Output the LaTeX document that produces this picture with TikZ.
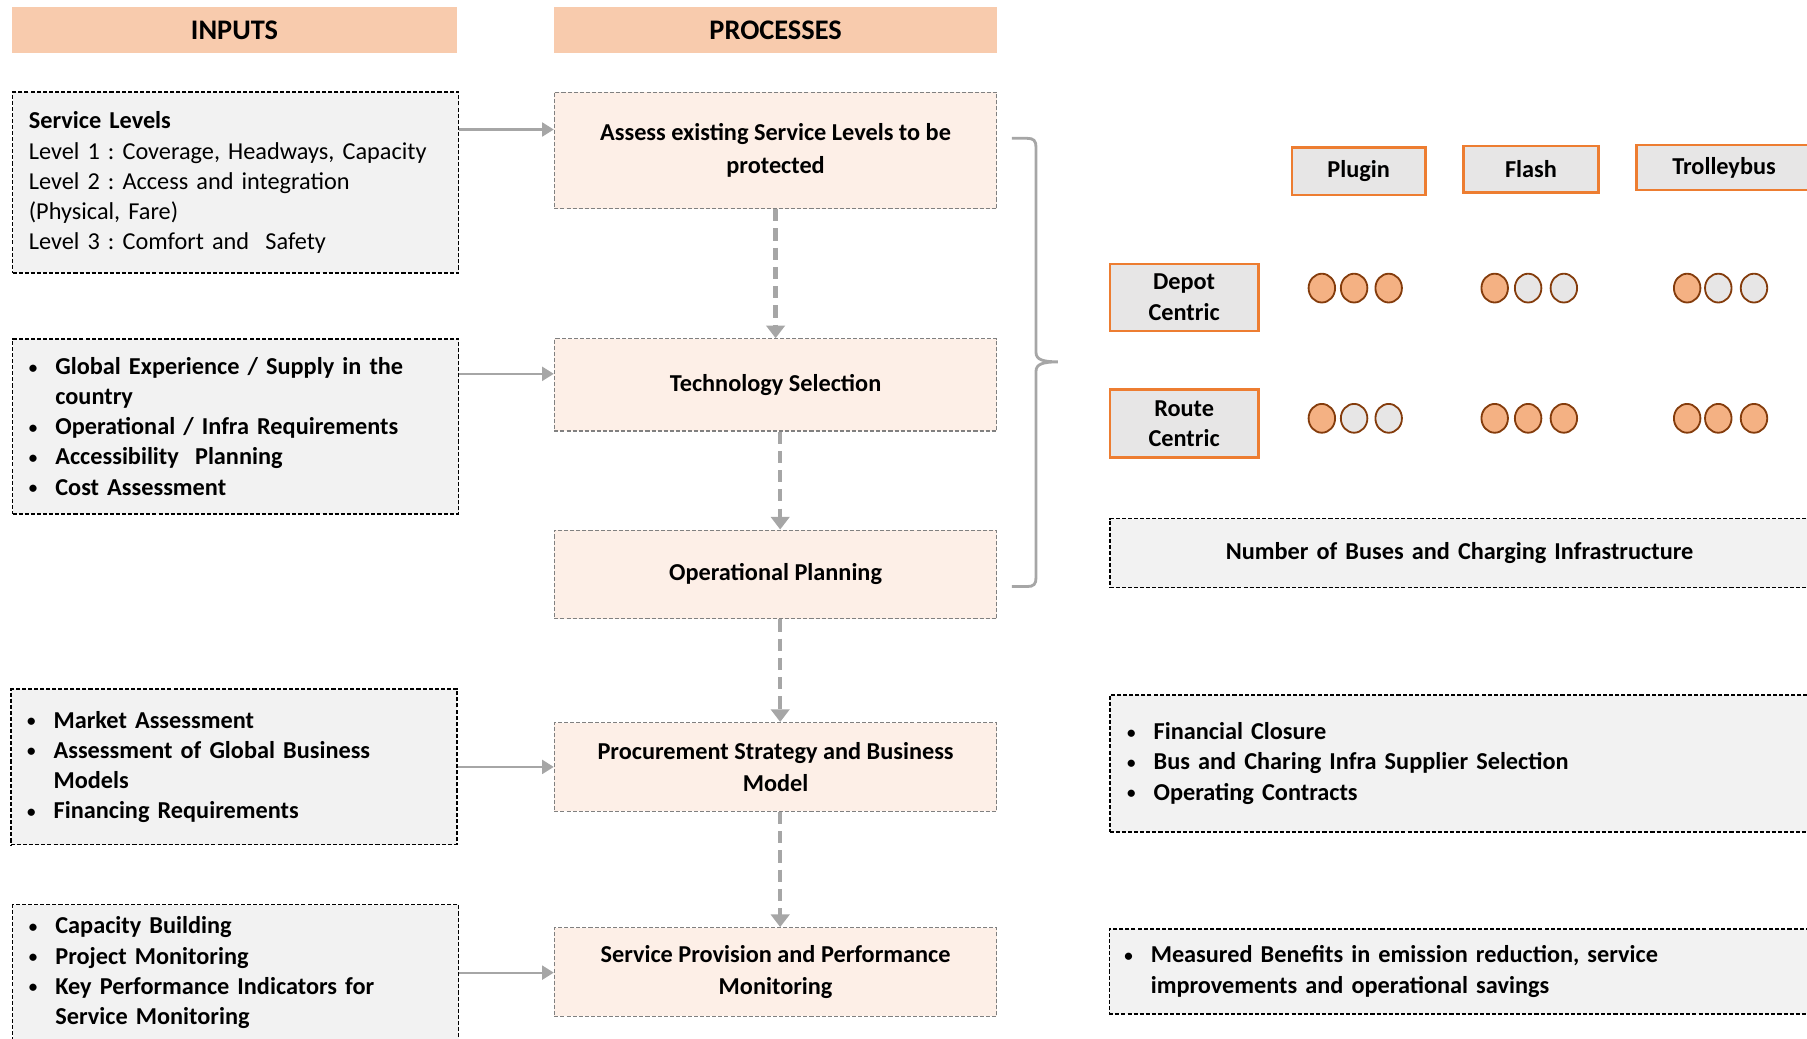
\documentclass[tikz,border=0pt]{standalone}
\usepackage{fontspec}
\setmainfont{Carlito}
\usepackage{xcolor}
\usepackage{graphicx}
\usetikzlibrary{shapes.geometric,arrows.meta}
\frenchspacing

\definecolor{peach}{HTML}{F8CBAD}
\definecolor{boxgray}{HTML}{F2F2F2}
\definecolor{procfill}{HTML}{FDEFE7}
\definecolor{procline}{HTML}{808080}
\definecolor{arrgray}{HTML}{A6A6A6}
\definecolor{hdgray}{HTML}{E7E6E6}
\definecolor{orangeline}{HTML}{ED7D31}
\definecolor{dotorange}{HTML}{F4B183}
\definecolor{dotline}{HTML}{843C0C}

\newcommand{\bul}{\makebox[0.46cm][l]{\raisebox{0.12ex}{\scalebox{0.7}{\textbullet}}}}
\newcommand{\ind}{\hspace*{0.46cm}}

\begin{document}
\begin{tikzpicture}[x=0.02cm,y=-0.02cm,
	head/.style={fill=peach,minimum height=0.8cm,inner sep=0,font=\fontsize{14}{17}\selectfont\bfseries},
	inbox/.style={draw=black,fill=boxgray,dash pattern=on 2pt off 1pt,line width=0.7pt,align=left,inner xsep=0.28cm,text width=7.18cm,font=\fontsize{12}{14.9}\selectfont},
	procbox/.style={draw=procline,fill=procfill,dash pattern=on 2pt off 1pt,line width=0.6pt,align=center,minimum width=7.68cm,font=\fontsize{12}{15.9}\selectfont\bfseries},
	outbox/.style={draw=black,fill=boxgray,dash pattern=on 2pt off 1pt,line width=0.7pt,align=left,inner xsep=0.3cm,text width=11.54cm,font=\fontsize{12}{14.9}\selectfont\bfseries},
	colhead/.style={draw=orangeline,fill=hdgray,line width=1.1pt,inner sep=0,align=center,font=\fontsize{12}{15}\selectfont\bfseries},
	dotfull/.style={ellipse,draw=dotline,fill=dotorange,line width=0.9pt,minimum width=0.46cm,minimum height=0.5cm,inner sep=0},
	dotnone/.style={dotfull,fill=hdgray},
	harrow/.style={draw=arrgray,line width=1.1pt,-{Triangle[length=0.2cm,width=0.24cm]}},
	varrow/.style={draw=arrgray,line width=2.2pt,dash pattern=on 6pt off 3.5pt,-{Triangle[length=0.22cm,width=0.32cm]}}]
	\useasboundingbox (0,0) rectangle (1568,901);
	% en-tetes
	\node[head,minimum width=7.74cm] (hin) at (203.5,26) {INPUTS};
	\node[head,minimum width=7.68cm] (hproc) at (673,26) {PROCESSES};
	% entrees
	\node[inbox,minimum height=3.14cm] (in1) at (204.5,158.5) {\textbf{Service Levels}\\Level 1 : Coverage, Headways, Capacity\\Level 2 : Access and integration\\(Physical, Fare)\\Level 3 : Comfort and\ \ Safety};
	\node[inbox,minimum height=3.04cm,font=\fontsize{12}{14.9}\selectfont\bfseries] (in2) at (204.5,370) {\bul Global Experience / Supply in the\\\ind country\\\bul Operational / Infra Requirements\\\bul Accessibility\ \ Planning\\\bul Cost Assessment};
	\node[inbox,minimum height=2.7cm,font=\fontsize{12}{14.9}\selectfont\bfseries] (in3) at (203,665.5) {\bul Market Assessment\\\bul Assessment of Global Business\\\ind Models\\\bul Financing Requirements};
	\node[inbox,minimum height=2.36cm,font=\fontsize{12}{14.9}\selectfont\bfseries] (in4) at (204.5,844) {\bul Capacity Building\\\bul Project Monitoring\\\bul Key Performance Indicators for\\\ind Service Monitoring};
	% processus
	\node[procbox,minimum height=2.02cm] (p1) at (673,130.5) {Assess existing Service Levels to be\\protected};
	\node[procbox,minimum height=1.6cm] (p2) at (673,334) {Technology Selection};
	\node[procbox,minimum height=1.54cm] (p3) at (673,498.5) {Operational Planning};
	\node[procbox,minimum height=1.54cm] (p4) at (673,665.5) {Procurement Strategy and Business\\Model};
	\node[procbox,minimum height=1.54cm] (p5) at (673,843.5) {Service Provision and Performance\\Monitoring};
	% fleches
	\coordinate (a1) at ([yshift=-0.66cm]in1.north east);
	\coordinate (a2) at ([yshift=-0.62cm]in2.north east);
	\draw[harrow] (a1) -- (a1 -| p1.west);
	\draw[harrow] (a2) -- (a2 -| p2.west);
	\draw[harrow] (in3.east) -- (in3.east -| p4.west);
	\draw[harrow] (in4.east) -- (in4.east -| p5.west);
	\draw[varrow] (p1.south) -- (p2.north);
	\draw[varrow] ([xshift=0.08cm]p2.south) -- ([xshift=0.08cm]p3.north);
	\draw[varrow] ([xshift=0.08cm]p3.south) -- ([xshift=0.08cm]p4.north);
	\draw[varrow] ([xshift=0.08cm]p4.south) -- ([xshift=0.08cm]p5.north);
	% accolade
	\draw[arrgray,line width=1.4pt] (878,120) -- (891,120) .. controls (897,120) and (899,122) .. (899,128) -- (899,306) .. controls (899,312) and (905,314) .. (918,314) .. controls (905,314) and (899,316) .. (899,322) -- (899,501) .. controls (899,507) and (897,509) .. (891,509) -- (878,509);
	% matrice des technologies
	\node[colhead,minimum width=2.32cm,minimum height=0.82cm] (plug) at (1179,148.5) {Plugin};
	\node[colhead,minimum width=2.34cm,minimum height=0.8cm] (flash) at (1328.5,147) {Flash};
	\node[colhead,minimum width=3.04cm,minimum height=0.78cm] (troll) at (1496,145.5) {Trolleybus};
	\node[colhead,minimum width=2.58cm,minimum height=1.16cm] (depot) at (1027.5,258) {Depot\\Centric};
	\node[colhead,minimum width=2.58cm,minimum height=1.18cm] (route) at (1027.5,367.5) {Route\\Centric};
	\foreach \x/\s [count=\i] in {1147/dotfull,1175/dotfull,1205/dotfull,1297/dotfull,1326/dotnone,1357/dotnone,1464/dotfull,1491/dotnone,1522/dotnone}
		\node[\s] (dep\i) at (\x,250) {};
	\foreach \x/\s [count=\i] in {1147/dotfull,1175/dotnone,1205/dotnone,1297/dotfull,1326/dotfull,1357/dotfull,1464/dotfull,1491/dotfull,1522/dotfull}
		\node[\s] (rte\i) at (\x,363) {};
	% sorties
	\node[outbox,minimum height=1.2cm,align=center] (r1) at (1266.5,480) {Number of Buses and Charging Infrastructure};
	\node[outbox,minimum height=2.38cm] (r2) at (1266.5,662.5) {\bul Financial Closure\\\bul Bus and Charing Infra Supplier Selection\\\bul Operating Contracts};
	\node[outbox,minimum height=1.48cm,inner xsep=0.26cm,text width=11.62cm] (r3) at (1266,843) {\bul Measured Benefits in emission reduction, service\\\ind improvements and operational savings};
\end{tikzpicture}
\end{document}
